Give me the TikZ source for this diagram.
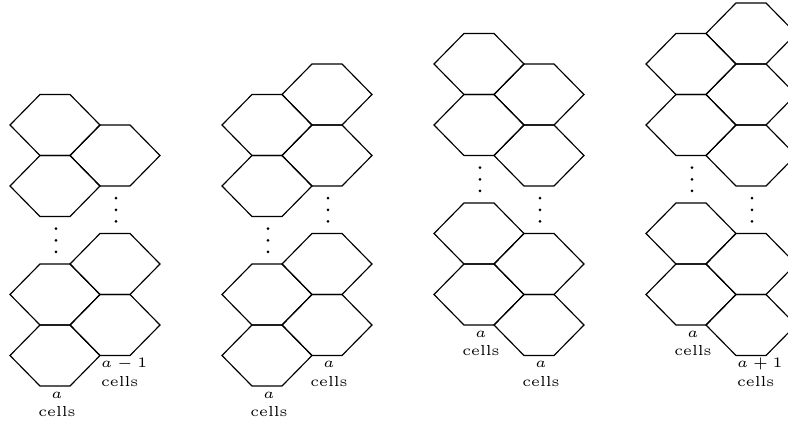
\documentclass[tikz,border=0pt]{standalone}
\begin{document}
\begin{tikzpicture}[x=0.345pt,y=-0.345pt,
  hexcell/.pic={\draw[line width=0.4pt,line join=miter] (-15,-30.5) -- (15,-30.5) -- (45,0) -- (15,30.5) -- (-15,30.5) -- (-45,0) -- cycle;},
  vdotsmark/.pic={\foreach \dy in {-11.6,0,11.6} \fill (0,\dy) circle[radius=1.5];},
  celllabel/.style={inner sep=0pt,anchor=north,align=center,font=\fontsize{5}{6.4}\selectfont},
  celllabelleft/.style={inner sep=0pt,anchor=north west,align=left,font=\fontsize{5}{6.4}\selectfont}]
\useasboundingbox (0,0) rectangle (788,422);
\clip (0,0) rectangle (788,422);
% diagram 1
\foreach \y in {125,186,294.5,355.5} \pic at (55,\y) {hexcell};
\foreach \y in {155.5,264,325} \pic at (115,\y) {hexcell};
\pic at (56,240.25) {vdotsmark};
\pic at (116,209.75) {vdotsmark};
\node[celllabel] (l1l) at (57,386) {\rule{0pt}{4pt}$a$\\cells};
\node[celllabelleft] (l1r) at (100.5,355.5) {\rule{0pt}{4pt}$a-1$\\cells};
% diagram 2
\foreach \y in {125,186,294.5,355.5} \pic at (267,\y) {hexcell};
\foreach \y in {94.5,155.5,264,325} \pic at (327,\y) {hexcell};
\pic at (268,240.25) {vdotsmark};
\pic at (328,209.75) {vdotsmark};
\node[celllabel] (l2l) at (269,386) {\rule{0pt}{4pt}$a$\\cells};
\node[celllabel] (l2r) at (329,355.5) {\rule{0pt}{4pt}$a$\\cells};
% diagram 3
\foreach \y in {64,125,233.5,294.5} \pic at (479,\y) {hexcell};
\foreach \y in {94.5,155.5,264,325} \pic at (539,\y) {hexcell};
\pic at (480,179.25) {vdotsmark};
\pic at (540,209.75) {vdotsmark};
\node[celllabel] (l3l) at (481,325) {\rule{0pt}{4pt}$a$\\cells};
\node[celllabel] (l3r) at (541,355.5) {\rule{0pt}{4pt}$a$\\cells};
% diagram 4
\foreach \y in {64,125,233.5,294.5} \pic at (691,\y) {hexcell};
\foreach \y in {33.5,94.5,155.5,264,325} \pic at (751,\y) {hexcell};
\pic at (692,179.25) {vdotsmark};
\pic at (752,209.75) {vdotsmark};
\node[celllabel] (l4l) at (693,325) {\rule{0pt}{4pt}$a$\\cells};
\node[celllabelleft] (l4r) at (736.5,355.5) {\rule{0pt}{4pt}$a+1$\\cells};
\end{tikzpicture}
\end{document}
